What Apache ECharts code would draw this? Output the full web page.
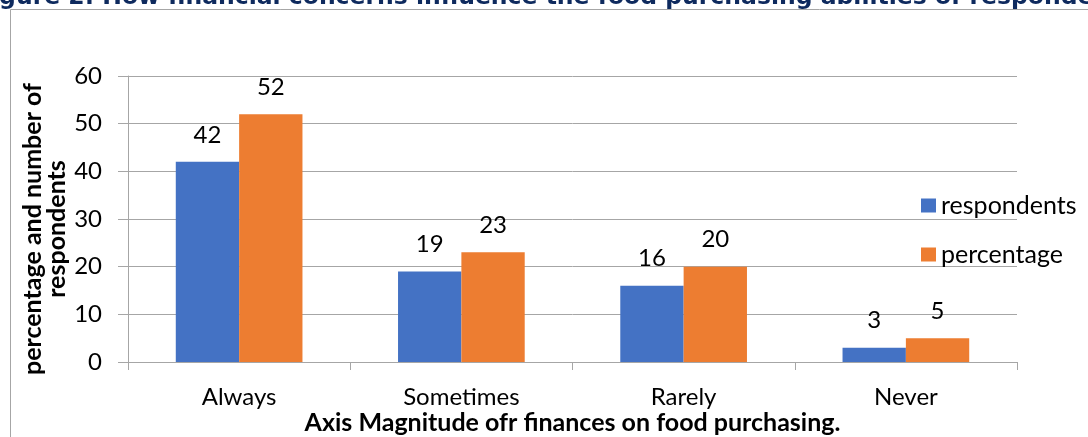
<!DOCTYPE html>
<html>
<head>
<meta charset="utf-8">
<script src="https://cdn.jsdelivr.net/npm/echarts@6/dist/echarts.min.js"></script>
<style>
html,body{margin:0;padding:0;background:#fff;}
#chart{width:1088px;height:437px;}
</style>
</head>
<body>
<div id="chart"></div>
<script>
var categories = ['Always', 'Sometimes', 'Rarely', 'Never'];
var respondents = [42, 19, 16, 3];
var percentage = [52, 23, 20, 5];
var yTicks = [0, 10, 20, 30, 40, 50, 60];
var seriesNames = ['respondents', 'percentage'];
var titleText = 'Figure 2: How financial concerns influence the food purchasing abilities of respondents';
var xAxisTitle = 'Axis Magnitude ofr finances on food purchasing.';
var yAxisTitle = 'percentage and number of\nrespondents';

var font = 'Lato, "Open Sans", sans-serif';
var chart = echarts.init(document.getElementById('chart'), null, {renderer: 'canvas'});
var labelStyle = {show: true, position: 'top', distance: 15, fontSize: 24, color: '#000', fontFamily: font};
chart.setOption({
  animation: false,
  backgroundColor: '#fff',
  grid: {left: 128, right: 71, top: 76, bottom: 75, containLabel: false, outerBoundsMode: 'none'},
  legend: {
    orient: 'vertical', left: 916, top: 188,
    itemWidth: 15, itemHeight: 14, itemGap: 24, icon: 'rect',
    textStyle: {fontSize: 25, color: '#000', fontFamily: font, lineHeight: 24},
    data: seriesNames
  },
  xAxis: {
    type: 'category', data: categories,
    axisLine: {lineStyle: {color: '#a6a6a6', width: 1}},
    axisTick: {show: true, length: 8, lineStyle: {color: '#a6a6a6'}},
    axisLabel: {fontSize: 24, color: '#000', fontFamily: font, margin: 23},
    name: xAxisTitle, nameLocation: 'middle', nameGap: 48, nameMoveOverlap: false,
    nameTextStyle: {fontSize: 25, fontWeight: 'bold', color: '#000', fontFamily: font, lineHeight: 26}
  },
  yAxis: {
    type: 'value', min: yTicks[0], max: yTicks[yTicks.length - 1], interval: 10,
    axisLine: {show: true, lineStyle: {color: '#a6a6a6', width: 1}},
    axisTick: {show: true, length: 10, lineStyle: {color: '#a6a6a6'}},
    splitLine: {lineStyle: {color: '#a6a6a6', width: 1}},
    axisLabel: {fontSize: 24, color: '#000', fontFamily: font, margin: 26},
    name: yAxisTitle, nameLocation: 'middle', nameGap: 59, nameRotate: 90, nameMoveOverlap: false,
    nameTextStyle: {fontSize: 25, fontWeight: 'bold', color: '#000', fontFamily: font, lineHeight: 24, align: 'center', padding: [0, 20, 0, 0]}
  },
  series: [
    {name: seriesNames[0], type: 'bar', data: respondents, barGap: '0%', barCategoryGap: '43%',
     itemStyle: {color: '#4472C4'}, label: labelStyle},
    {name: seriesNames[1], type: 'bar', data: percentage, barGap: '0%', barCategoryGap: '43%',
     itemStyle: {color: '#ED7D31'}, label: labelStyle}
  ],
  graphic: [
    {type: 'rect', left: 8, top: 7, shape: {width: 1200, height: 600}, silent: true,
     style: {fill: 'none', stroke: '#a6a6a6', lineWidth: 1}},
    {type: 'text', x: -25, y: 10, silent: true,
     style: {text: titleText, font: 'bold 23.5px "DejaVu Sans", sans-serif', fill: '#0E2A5E', verticalAlign: 'bottom'}}
  ]
});
</script>
</body>
</html>
